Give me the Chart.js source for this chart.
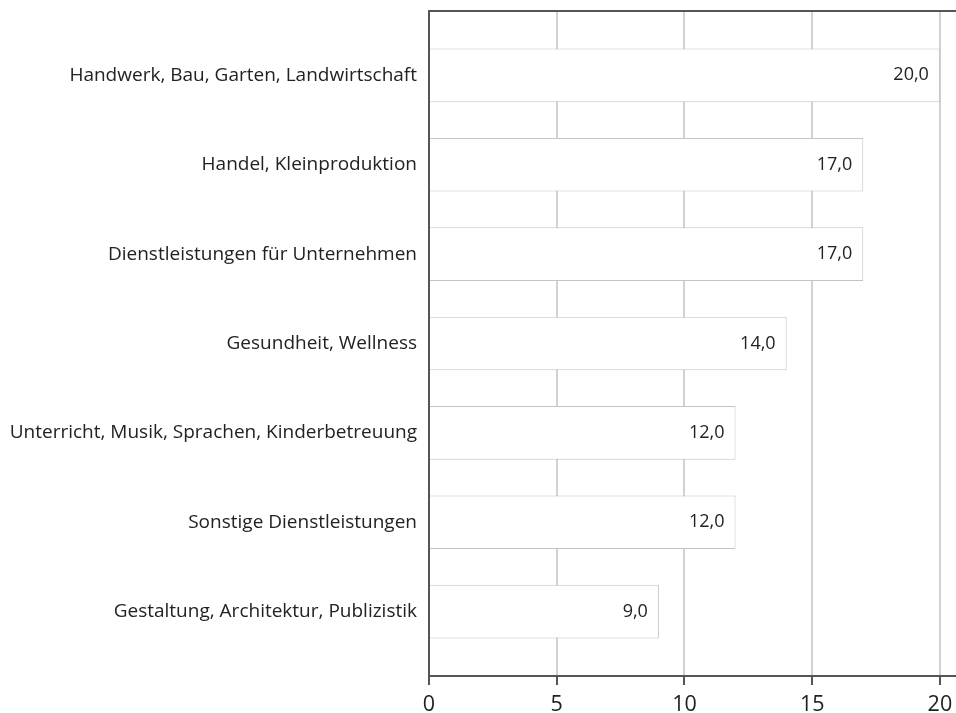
<!DOCTYPE html>
<html>
<head>
<meta charset="utf-8">
<script src="https://cdn.jsdelivr.net/npm/chart.js@4/dist/chart.umd.min.js"></script>
<style>
  html, body { margin: 0; padding: 0; background: #fff; }
  #wrap { width: 956px; height: 713px; }
</style>
</head>
<body>
<div id="wrap"><canvas id="c" width="956" height="713"></canvas></div>
<script>
const categories = [
  "Handwerk, Bau, Garten, Landwirtschaft",
  "Handel, Kleinproduktion",
  "Dienstleistungen für Unternehmen",
  "Gesundheit, Wellness",
  "Unterricht, Musik, Sprachen, Kinderbetreuung",
  "Sonstige Dienstleistungen",
  "Gestaltung, Architektur, Publizistik"
];
const values = [20.0, 17.0, 17.0, 14.0, 12.0, 12.0, 9.0];
const xTicks = [0, 5, 10, 15, 20];

const FONT = "'Open Sans', 'Noto Sans', sans-serif";
const AXIS_LEFT = 429;
const PLOT_TOP = 11;
const PLOT_RIGHT = 956;
const TEXT = '#222';
const AXIS = '#555';

const barLabels = {
  id: 'barLabels',
  afterDatasetsDraw(chart) {
    const ctx = chart.ctx;
    const meta = chart.getDatasetMeta(0);
    ctx.save();
    ctx.font = "18px " + FONT;
    ctx.fillStyle = TEXT;
    ctx.textAlign = 'right';
    ctx.textBaseline = 'middle';
    meta.data.forEach((el, i) => {
      ctx.fillText(values[i].toFixed(1).replace('.', ','), el.x - 11, el.y);
    });
    ctx.restore();
  }
};

const topBorder = {
  id: 'topBorder',
  afterDraw(chart) {
    const a = chart.chartArea;
    const ctx = chart.ctx;
    ctx.save();
    ctx.strokeStyle = AXIS;
    ctx.lineWidth = 2;
    ctx.beginPath();
    ctx.moveTo(a.left - 1, a.top);
    ctx.lineTo(a.right, a.top);
    ctx.stroke();
    ctx.restore();
  }
};

const fixArea = {
  id: 'fixArea',
  afterLayout(chart) {
    // keep plot frame where the reference has it
    const a = chart.chartArea;
    const y = chart.scales.y;
    const x = chart.scales.x;
    a.top = PLOT_TOP;
    y.top = PLOT_TOP;
    y.height = y.bottom - PLOT_TOP;
    y.configure();
    a.right = PLOT_RIGHT;
    a.width = a.right - a.left;
    x.right = PLOT_RIGHT;
    x.width = x.right - x.left;
    x.configure();
    a.height = a.bottom - a.top;
  }
};

new Chart(document.getElementById('c'), {
  type: 'bar',
  data: {
    datasets: [{
      data: values.map((v, i) => ({ x: v, y: i })),
      backgroundColor: '#ffffff',
      borderColor: '#c4c4c4',
      borderWidth: 1,
      barPercentage: 0.6,
      categoryPercentage: 1.0
    }]
  },
  options: {
    indexAxis: 'y',
    responsive: false,
    animation: false,
    layout: { padding: { top: 0, right: 0, left: 0, bottom: 0 } },
    plugins: { legend: { display: false }, tooltip: { enabled: false } },
    scales: {
      x: {
        type: 'linear',
        min: 0,
        max: 20.63,
        afterBuildTicks(scale) {
          scale.ticks = xTicks.map(v => ({ value: v }));
        },
        afterFit(scale) { scale.height = 37; },
        grid: {
          color: '#d2d2d2',
          lineWidth: 2,
          tickColor: AXIS,
          tickLength: 9,
          drawTicks: true
        },
        border: { color: AXIS, width: 2 },
        ticks: {
          color: TEXT,
          font: { family: FONT, size: 21.5 },
          padding: 7,
          maxRotation: 0,
          callback: v => String(v)
        }
      },
      y: {
        type: 'linear',
        reverse: true,
        offset: false,
        min: -0.72,
        max: 6.72,
        afterBuildTicks(scale) {
          scale.ticks = categories.map((c, i) => ({ value: i }));
        },
        afterFit(scale) { scale.width = AXIS_LEFT; },
        grid: { display: false, drawTicks: false, offset: false },
        border: { color: AXIS, width: 2 },
        ticks: {
          color: TEXT,
          font: { family: FONT, size: 19 },
          padding: 12,
          callback: v => categories[v]
        }
      }
    }
  },
  plugins: [fixArea, barLabels, topBorder]
});
</script>
</body>
</html>
